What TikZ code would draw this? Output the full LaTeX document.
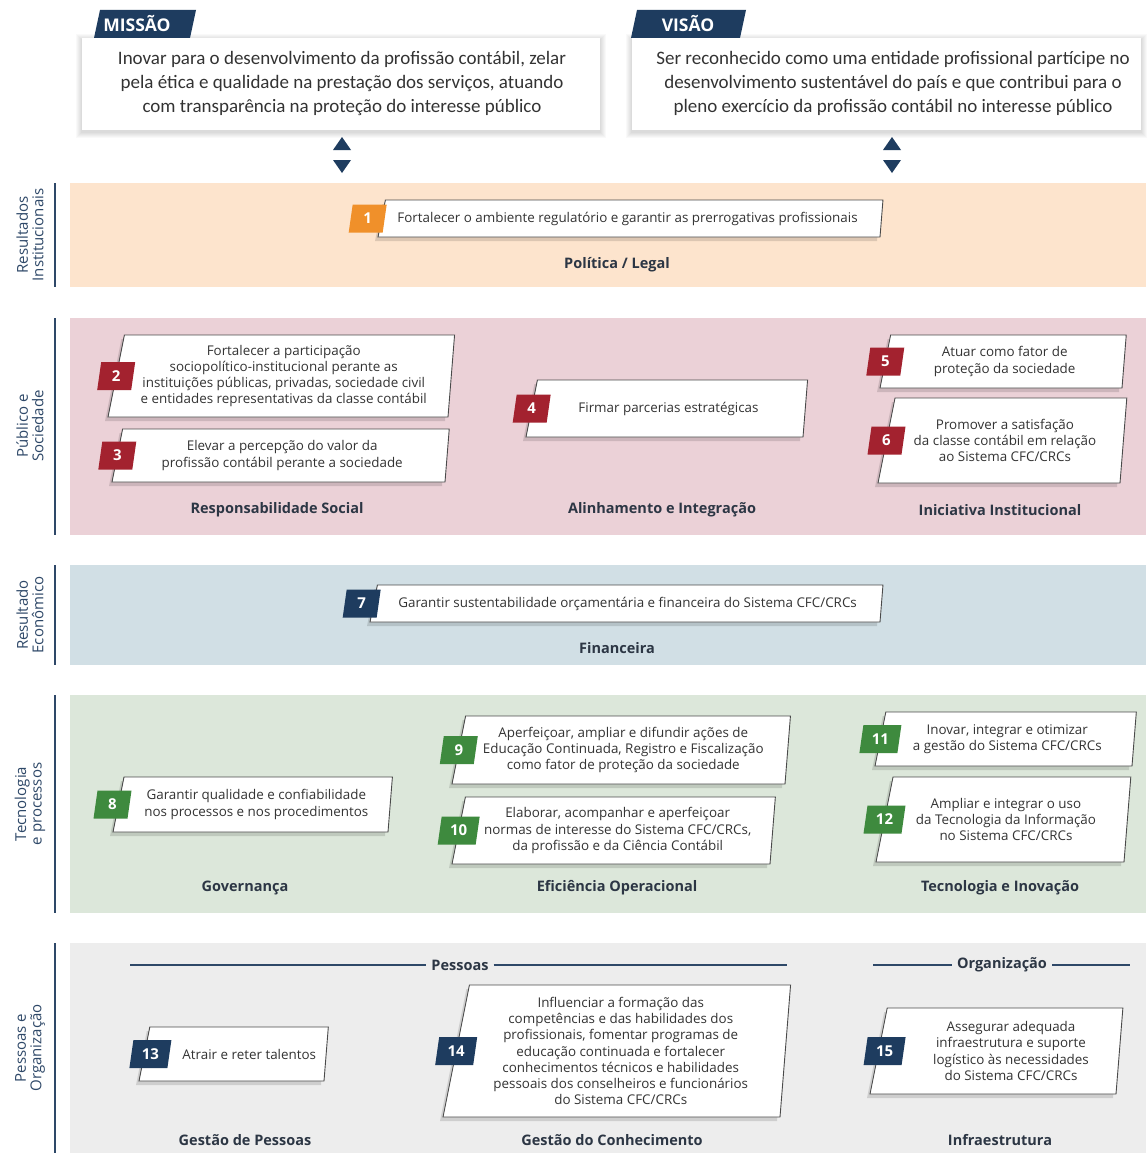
\documentclass[tikz,border=0pt]{standalone}
\usepackage{fontspec}
\setmainfont{Open Sans}
\newfontfamily\mvfont{Carlito}
\usetikzlibrary{calc}
\definecolor{navy}{HTML}{1E3C5F}
\definecolor{orangeb}{HTML}{F0902A}
\definecolor{redb}{HTML}{A3222F}
\definecolor{greenb}{HTML}{3E8A3E}
\definecolor{band1}{HTML}{FDE4CD}
\definecolor{band2}{HTML}{EBD1D7}
\definecolor{band3}{HTML}{D1DFE5}
\definecolor{band4}{HTML}{DCE7DA}
\definecolor{band5}{HTML}{EDEDED}
\definecolor{txt}{HTML}{333333}
\definecolor{lbl}{HTML}{2C3644}
\definecolor{side}{HTML}{2E4868}
\definecolor{edge}{HTML}{4A4A4A}
\tikzset{
 boxline/.style={draw=edge, line width=0.9pt, fill=white, line join=miter},
 boxshadow/.style={fill=black, opacity=0.13},
 boxtext/.style={text=txt, font=\fontsize{13.4}{16.2}\selectfont, align=center, inner sep=0pt},
 badgenum/.style={text=white, font=\fontsize{15}{15}\selectfont\bfseries, inner sep=0pt},
 cattext/.style={text=lbl, font=\fontsize{14.5}{16}\selectfont\bfseries, inner sep=0pt},
 sidetext/.style={text=side, font=\fontsize{15}{15.5}\selectfont, align=center, rotate=90, inner sep=0pt},
 sideline/.style={draw=side, line width=1.6pt},
 mvtext/.style={text=txt, font=\mvfont\fontsize{19}{24}\selectfont, align=center, inner sep=0pt},
 tabtext/.style={text=white, font=\fontsize{17.5}{17.5}\selectfont\bfseries, inner sep=0pt},
 grouptext/.style={text=lbl, font=\fontsize{14.5}{16}\selectfont\bfseries, inner sep=5pt},
 groupline/.style={draw=side, line width=1.6pt},
 tri/.style={fill=navy},
}
\def\bdx{0}
% #1 name, #2 xl, #3 xr, #4 ytop, #5 ybot, #6 badge colour, #7 number, #8 text shift, #9 text
\newcommand\objbox[9]{%
 \pgfmathsetmacro\bh{#5-#4}%
 \pgfmathsetmacro\bls{0.2*\bh}%
 \pgfmathsetmacro\brs{0.08*\bh}%
 \pgfmathsetmacro\bym{(#4+#5)/2}%
 \pgfmathsetmacro\bxm{#2+\bls/2+\bdx}%
 \pgfmathsetmacro\bw{ifthenelse(#7>9,19,17)}%
 \pgfmathsetmacro\bxc{(#2+\bls/2+#3+\brs/2)/2+#8}%
 \fill[boxshadow] (#2+\bls-3,#4+4) -- (#3+\brs-3,#4+4) -- (#3-3,#5+4) -- (#2-3,#5+4) -- cycle;
 \draw[boxline] (#2+\bls,#4) -- (#3+\brs,#4) -- (#3,#5) -- (#2,#5) -- cycle;
 \fill[#6] (\bxm-\bw-2,\bym+14) -- (\bxm+\bw-2,\bym+14) -- (\bxm+\bw+2,\bym-14) -- (\bxm-\bw+2,\bym-14) -- cycle;
 \node[badgenum] (#1num) at (\bxm,\bym) {#7};
 \node[boxtext] (#1) at (\bxc,\bym) {#9};
 \gdef\bdx{0}%
}
\newcommand\softshadow[4]{%
 \foreach \k in {1,...,6}{\fill[black,opacity=0.025] (#1-\k,#2-\k+2) rectangle (#3+\k,#4+\k+2);}%
}
\begin{document}
\begin{tikzpicture}[x=1pt,y=-1pt]
\useasboundingbox (0,0) rectangle (1146,1153);
\fill[white] (0,0) rectangle (1146,1153);

% mission / vision
\softshadow{82}{38}{600}{130}
\fill[white] (82,38) rectangle (600,130);
\softshadow{632}{38}{1141}{130}
\fill[white] (632,38) rectangle (1141,130);
\fill[navy] (94,38) -- (190,38) -- (196,10) -- (100,10) -- cycle;
\node[tabtext] (missao) at (137,24) {MISSÃO};
\fill[navy] (631,38) -- (740,38) -- (746,10) -- (637,10) -- cycle;
\node[tabtext] (visao) at (688,24) {VISÃO};
\node[mvtext] (mtext) at (342,83) {Inovar para o desenvolvimento da profissão contábil, zelar\\pela ética e qualidade na prestação dos serviços, atuando\\com transparência na proteção do interesse público};
\node[mvtext] (vtext) at (893,83) {Ser reconhecido como uma entidade profissional partícipe no\\desenvolvimento sustentável do país e que contribui para o\\pleno exercício da profissão contábil no interesse público};
\fill[tri] (342,137) -- (351,150) -- (333,150) -- cycle;
\fill[tri] (342,173) -- (351,160) -- (333,160) -- cycle;
\fill[tri] (892,137) -- (901,150) -- (883,150) -- cycle;
\fill[tri] (892,173) -- (901,160) -- (883,160) -- cycle;

% bands
\fill[band1] (70,183) rectangle (1146,287);
\fill[band2] (70,318) rectangle (1146,535);
\fill[band3] (70,565) rectangle (1146,665);
\fill[band4] (70,695) rectangle (1146,913);
\fill[band5] (70,943) rectangle (1146,1153);
\draw[sideline] (55,183) -- (55,287);
\draw[sideline] (55,318) -- (55,535);
\draw[sideline] (55,565) -- (55,665);
\draw[sideline] (55,695) -- (55,913);
\draw[sideline] (55,943) -- (55,1153);
\node[sidetext] (s1) at (30,235) {Resultados\\Institucionais};
\node[sidetext] (s2) at (30,426) {Público e\\Sociedade};
\node[sidetext] (s3) at (30,615) {Resultado\\Econômico};
\node[sidetext] (s4) at (30,804) {Tecnologia\\e processos};
\node[sidetext] (s5) at (30,1048) {Pessoas e\\Organização};

% band 1
\gdef\bdx{-14}
\objbox{o1}{378}{880}{200}{237}{orangeb}{1}{-4}{Fortalecer o ambiente regulatório e garantir as prerrogativas profissionais}
\node[cattext] (c1) at (617,265) {Política / Legal};

% band 2
\objbox{o2}{108}{448}{335}{417}{redb}{2}{0}{Fortalecer a participação\\sociopolítico-institucional perante as\\instituições públicas, privadas, sociedade civil\\e entidades representativas da classe contábil}
\objbox{o3}{112}{445}{429}{482}{redb}{3}{0}{Elevar a percepção do valor da\\profissão contábil perante a sociedade}
\objbox{o4}{526}{803}{380}{437}{redb}{4}{0}{Firmar parcerias estratégicas}
\objbox{o5}{880}{1122}{335}{388}{redb}{5}{0}{Atuar como fator de\\proteção da sociedade}
\objbox{o6}{878}{1120}{398}{483}{redb}{6}{0}{Promover a satisfação\\da classe contábil em relação\\ao Sistema CFC/CRCs}
\node[cattext] (c2) at (277,510) {Responsabilidade Social};
\node[cattext] (c3) at (662,510) {Alinhamento e Integração};
\node[cattext] (c4) at (1000,510) {Iniciativa Institucional};

% band 3
\gdef\bdx{-12}
\objbox{o7}{370}{880}{585}{622}{navy}{7}{0}{Garantir sustentabilidade orçamentária e financeira do Sistema CFC/CRCs}
\node[cattext] (c5) at (617,648) {Financeira};

% band 4
\gdef\bdx{-6}
\objbox{o8}{113}{388}{777}{832}{greenb}{8}{2}{Garantir qualidade e confiabilidade\\nos processos e nos procedimentos}
\objbox{o9}{452}{785}{716}{784}{greenb}{9}{0}{Aperfeiçoar, ampliar e difundir ações de\\Educação Continuada, Registro e Fiscalização\\como fator de proteção da sociedade}
\objbox{o10}{452}{770}{797}{864}{greenb}{10}{2}{Elaborar, acompanhar e aperfeiçoar\\normas de interesse do Sistema CFC/CRCs,\\da profissão e da Ciência Contábil}
\objbox{o11}{875}{1132}{712}{766}{greenb}{11}{0}{Inovar, integrar e otimizar\\a gestão do Sistema CFC/CRCs}
\objbox{o12}{876}{1124}{777}{862}{greenb}{12}{0}{Ampliar e integrar o uso\\da Tecnologia da Informação\\no Sistema CFC/CRCs}
\node[cattext] (c6) at (245,888) {Governança};
\node[cattext] (c7) at (617,888) {Eficiência Operacional};
\node[cattext] (c8) at (1000,888) {Tecnologia e Inovação};

% band 5
\node[grouptext] (gp) at (460,965) {Pessoas};
\coordinate (gpl) at (130,965);
\coordinate (gpr) at (787,965);
\draw[groupline] (gpl) -- (gp.west);
\draw[groupline] (gp.east) -- (gpr);
\node[grouptext] (go) at (1002,965) {Organização};
\coordinate (gol) at (873,965);
\coordinate (gor) at (1130,965);
\draw[groupline] (gol) -- (go.west);
\draw[groupline] (go.east) -- (gor);
\gdef\bdx{6}
\objbox{o13}{139}{324}{1027}{1081}{navy}{13}{14}{Atrair e reter talentos}
\objbox{o14}{443}{780}{985}{1117}{navy}{14}{0}{Influenciar a formação das\\competências e das habilidades dos\\profissionais, fomentar programas de\\educação continuada e fortalecer\\conhecimentos técnicos e habilidades\\pessoais dos conselheiros e funcionários\\do Sistema CFC/CRCs}
\gdef\bdx{6}
\objbox{o15}{870}{1116}{1008}{1094}{navy}{15}{12}{Assegurar adequada\\infraestrutura e suporte\\logístico às necessidades\\do Sistema CFC/CRCs}
\node[cattext] (c9) at (245,1140) {Gestão de Pessoas};
\node[cattext] (c10) at (612,1140) {Gestão do Conhecimento};
\node[cattext] (c11) at (1000,1140) {Infraestrutura};
\end{tikzpicture}
\end{document}
